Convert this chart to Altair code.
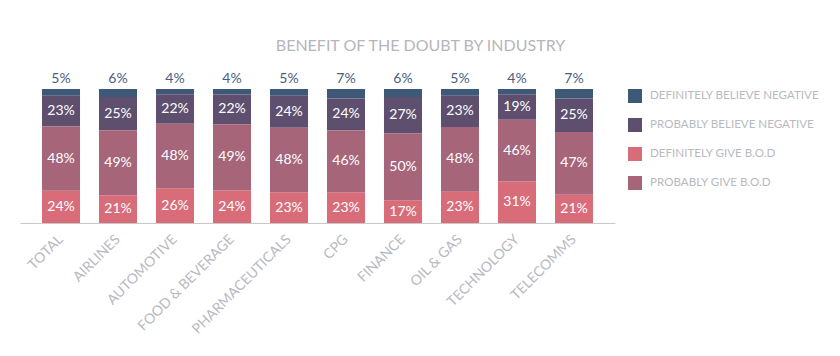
import altair as alt
import pandas as pd

industries = ["TOTAL", "AIRLINES", "AUTOMOTIVE", "FOOD & BEVERAGE", "PHARMACEUTICALS",
              "CPG", "FINANCE", "OIL & GAS", "TECHNOLOGY", "TELECOMMS"]
definitely_believe_negative = [5, 6, 4, 4, 5, 7, 6, 5, 4, 7]
probably_believe_negative = [23, 25, 22, 22, 24, 24, 27, 23, 19, 25]
probably_give_bod = [48, 49, 48, 49, 48, 46, 50, 48, 46, 47]
definitely_give_bod = [24, 21, 26, 24, 23, 23, 17, 23, 31, 21]

series_names = ["DEFINITELY BELIEVE NEGATIVE", "PROBABLY BELIEVE NEGATIVE",
                "DEFINITELY GIVE B.O.D", "PROBABLY GIVE B.O.D"]
series_values = [definitely_believe_negative, probably_believe_negative,
                 definitely_give_bod, probably_give_bod]
stack_order = {"DEFINITELY GIVE B.O.D": 0, "PROBABLY GIVE B.O.D": 1,
               "PROBABLY BELIEVE NEGATIVE": 2, "DEFINITELY BELIEVE NEGATIVE": 3}
colors = ["#3e5878", "#5e4f6f", "#d96c79", "#a7657a"]

rows = []
for name, vals in zip(series_names, series_values):
    for ind, v in zip(industries, vals):
        rows.append({"industry": ind, "series": name, "value": v,
                     "order": stack_order[name], "label": f"{v}%"})
df = pd.DataFrame(rows)

FONT = "Lato"

base = (
    alt.Chart(df)
    .transform_joinaggregate(total="sum(value)", groupby=["industry"])
    .transform_calculate(pct="datum.value / datum.total")
    .transform_stack(stack="pct", as_=["y0", "y1"], groupby=["industry"],
                     sort=[alt.SortField("order", order="ascending")])
    .transform_calculate(mid="(datum.y0 + datum.y1) / 2")
)

xenc = alt.X("industry:N", sort=industries,
             scale=alt.Scale(paddingInner=0.333, paddingOuter=0.386),
             axis=alt.Axis(title=None, labelAngle=-45, labelAlign="right",
                           labelBaseline="middle", labelPadding=14,
                           labelFont=FONT, labelFontSize=14, labelColor="#b9b9c1",
                           ticks=False, domainColor="#c9c9c9", domainWidth=1,
                           labelOverlap=False))
yscale = alt.Scale(domain=[0, 1], nice=False)

bars = base.mark_bar().encode(
    x=xenc,
    y=alt.Y("y0:Q", scale=yscale, axis=None),
    y2="y1:Q",
    color=alt.Color("series:N",
                    scale=alt.Scale(domain=series_names, range=colors),
                    legend=alt.Legend(title=None, orient="none", legendX=608, legendY=0,
                                      symbolType="square", symbolSize=196,
                                      symbolStrokeWidth=0, symbolOpacity=1,
                                      labelFont=FONT, labelFontSize=11.6, labelLimit=0,
                                      labelColor="#b9b9c1", rowPadding=15,
                                      labelOffset=8)),
)

inner = base.transform_filter("datum.series != 'DEFINITELY BELIEVE NEGATIVE'").mark_text(
    font=FONT, fontSize=14, color="white", baseline="middle"
).encode(x=alt.X("industry:N", sort=industries), y=alt.Y("mid:Q", scale=yscale), text="label:N")

top = base.transform_filter("datum.series == 'DEFINITELY BELIEVE NEGATIVE'").mark_text(
    font=FONT, fontSize=14, color="#4a6080", baseline="bottom", dy=-3
).encode(x=alt.X("industry:N", sort=industries), y=alt.Y("y1:Q", scale=yscale), text="label:N")

chart = (
    alt.layer(bars, inner, top)
    .properties(
        width=595, height=134,
        title=alt.Title("BENEFIT OF THE DOUBT BY INDUSTRY", font=FONT, fontSize=16,
                        fontWeight="normal", color="#b5b5bd", anchor="middle",
                        dx=103, offset=18),
        autosize=alt.AutoSizeParams(type="none"),
        padding={"left": 20, "top": 89, "right": 225, "bottom": 133},
        background="white",
    )
    .configure_view(stroke=None)
)

chart.save("out.html", embed_options={"renderer": "svg", "actions": False})
